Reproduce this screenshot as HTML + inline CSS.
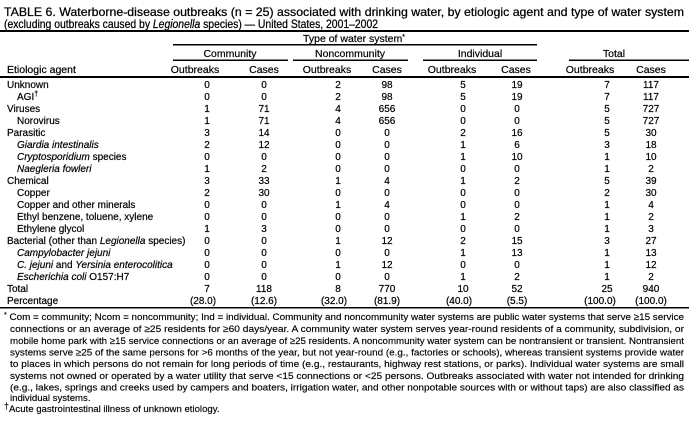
<!DOCTYPE html>
<html><head><meta charset="utf-8"><style>
html,body{margin:0;padding:0;background:#fff;}
svg{display:block;font-family:"Liberation Sans",Arial,sans-serif;}
.t{font-size:12px;stroke:#000;stroke-width:0.25}
.h{font-size:10.5px;stroke:#000;stroke-width:0.2}
.r{font-size:10px;stroke:#000;stroke-width:0.2}
.f{font-size:9.6px;stroke:#000;stroke-width:0.15}
.n text{text-anchor:middle}
</style></head><body>
<svg width="689" height="424" viewBox="0 0 689 424" xmlns="http://www.w3.org/2000/svg">
<defs></defs>
<text class="t" x="4" y="16" textLength="680" lengthAdjust="spacingAndGlyphs">TABLE 6. Waterborne-disease outbreaks (n = 25) associated with drinking water, by etiologic agent and type of water system</text>
<text class="t" x="4" y="28" textLength="374" lengthAdjust="spacingAndGlyphs">(excluding outbreaks caused by <tspan font-style="italic">Legionella</tspan> species) — United States, 2001–2002</text>
<rect x="0" y="30" width="689" height="2" fill="#000"/>
<text class="h" x="354" y="42" text-anchor="middle">Type of water system<tspan font-size="7" dy="-3">*</tspan></text>
<rect x="173" y="44" width="364" height="1.5" fill="#000"/>
<g class="h" text-anchor="middle">
<text x="230" y="57">Community</text>
<text x="350" y="57">Noncommunity</text>
<text x="480" y="57">Individual</text>
<text x="614" y="57">Total</text>
</g>
<rect x="173" y="59.5" width="115" height="1.5" fill="#000"/>
<rect x="293" y="59.5" width="115" height="1.5" fill="#000"/>
<rect x="423" y="59.5" width="114" height="1.5" fill="#000"/>
<rect x="569" y="59.5" width="120" height="1.5" fill="#000"/>
<g class="h" text-anchor="middle">
<text x="195" y="73">Outbreaks</text><text x="264" y="73">Cases</text>
<text x="327" y="73">Outbreaks</text><text x="387" y="73">Cases</text>
<text x="452" y="73">Outbreaks</text><text x="516" y="73">Cases</text>
<text x="590" y="73">Outbreaks</text><text x="651" y="73">Cases</text>
</g>
<text class="h" x="7" y="73">Etiologic agent</text>
<rect x="0" y="76" width="689" height="2" fill="#000"/>

<g class="r">
<text x="7" y="88">Unknown</text>
<text x="17" y="100">AGI<tspan font-size="7" dy="-4">†</tspan></text>
<text x="7" y="112">Viruses</text>
<text x="17" y="124">Norovirus</text>
<text x="7" y="136">Parasitic</text>
<text x="17" y="148" font-style="italic">Giardia intestinalis</text>
<text x="17" y="160"><tspan font-style="italic">Cryptosporidium</tspan> species</text>
<text x="17" y="172" font-style="italic">Naegleria fowleri</text>
<text x="7" y="184">Chemical</text>
<text x="17" y="196">Copper</text>
<text x="17" y="208">Copper and other minerals</text>
<text x="17" y="220">Ethyl benzene, toluene, xylene</text>
<text x="17" y="232">Ethylene glycol</text>
<text x="7" y="244">Bacterial (other than <tspan font-style="italic">Legionella</tspan> species)</text>
<text x="17" y="256" font-style="italic">Campylobacter jejuni</text>
<text x="17" y="268"><tspan font-style="italic">C. jejuni</tspan> and <tspan font-style="italic">Yersinia enterocolitica</tspan></text>
<text x="17" y="280"><tspan font-style="italic">Escherichia coli</tspan> O157:H7</text>
<text x="7" y="292">Total</text>
<text x="7" y="304">Percentage</text>
</g>

<g class="r n">
<g transform="translate(0,88)"><text x="207">0</text><text x="264">0</text><text x="338">2</text><text x="387">98</text><text x="463">5</text><text x="517">19</text><text x="607">7</text><text x="651">117</text></g>
<g transform="translate(0,100)"><text x="207">0</text><text x="264">0</text><text x="338">2</text><text x="387">98</text><text x="463">5</text><text x="517">19</text><text x="607">7</text><text x="651">117</text></g>
<g transform="translate(0,112)"><text x="207">1</text><text x="264">71</text><text x="338">4</text><text x="387">656</text><text x="463">0</text><text x="517">0</text><text x="607">5</text><text x="651">727</text></g>
<g transform="translate(0,124)"><text x="207">1</text><text x="264">71</text><text x="338">4</text><text x="387">656</text><text x="463">0</text><text x="517">0</text><text x="607">5</text><text x="651">727</text></g>
<g transform="translate(0,136)"><text x="207">3</text><text x="264">14</text><text x="338">0</text><text x="387">0</text><text x="463">2</text><text x="517">16</text><text x="607">5</text><text x="651">30</text></g>
<g transform="translate(0,148)"><text x="207">2</text><text x="264">12</text><text x="338">0</text><text x="387">0</text><text x="463">1</text><text x="517">6</text><text x="607">3</text><text x="651">18</text></g>
<g transform="translate(0,160)"><text x="207">0</text><text x="264">0</text><text x="338">0</text><text x="387">0</text><text x="463">1</text><text x="517">10</text><text x="607">1</text><text x="651">10</text></g>
<g transform="translate(0,172)"><text x="207">1</text><text x="264">2</text><text x="338">0</text><text x="387">0</text><text x="463">0</text><text x="517">0</text><text x="607">1</text><text x="651">2</text></g>
<g transform="translate(0,184)"><text x="207">3</text><text x="264">33</text><text x="338">1</text><text x="387">4</text><text x="463">1</text><text x="517">2</text><text x="607">5</text><text x="651">39</text></g>
<g transform="translate(0,196)"><text x="207">2</text><text x="264">30</text><text x="338">0</text><text x="387">0</text><text x="463">0</text><text x="517">0</text><text x="607">2</text><text x="651">30</text></g>
<g transform="translate(0,208)"><text x="207">0</text><text x="264">0</text><text x="338">1</text><text x="387">4</text><text x="463">0</text><text x="517">0</text><text x="607">1</text><text x="651">4</text></g>
<g transform="translate(0,220)"><text x="207">0</text><text x="264">0</text><text x="338">0</text><text x="387">0</text><text x="463">1</text><text x="517">2</text><text x="607">1</text><text x="651">2</text></g>
<g transform="translate(0,232)"><text x="207">1</text><text x="264">3</text><text x="338">0</text><text x="387">0</text><text x="463">0</text><text x="517">0</text><text x="607">1</text><text x="651">3</text></g>
<g transform="translate(0,244)"><text x="207">0</text><text x="264">0</text><text x="338">1</text><text x="387">12</text><text x="463">2</text><text x="517">15</text><text x="607">3</text><text x="651">27</text></g>
<g transform="translate(0,256)"><text x="207">0</text><text x="264">0</text><text x="338">0</text><text x="387">0</text><text x="463">1</text><text x="517">13</text><text x="607">1</text><text x="651">13</text></g>
<g transform="translate(0,268)"><text x="207">0</text><text x="264">0</text><text x="338">1</text><text x="387">12</text><text x="463">0</text><text x="517">0</text><text x="607">1</text><text x="651">12</text></g>
<g transform="translate(0,280)"><text x="207">0</text><text x="264">0</text><text x="338">0</text><text x="387">0</text><text x="463">1</text><text x="517">2</text><text x="607">1</text><text x="651">2</text></g>
<g transform="translate(0,292)"><text x="207">7</text><text x="264">118</text><text x="338">8</text><text x="387">770</text><text x="463">10</text><text x="517">52</text><text x="607">25</text><text x="651">940</text></g>
<g transform="translate(0,304)"><text x="203">(28.0)</text><text x="264">(12.6)</text><text x="334">(32.0)</text><text x="387">(81.9)</text><text x="459">(40.0)</text><text x="517">(5.5)</text><text x="600">(100.0)</text><text x="651">(100.0)</text></g>
</g>
<rect x="0" y="307" width="689" height="1.5" fill="#000"/>

<g class="f">
<text x="4" y="320" textLength="680" lengthAdjust="spacingAndGlyphs"><tspan font-size="7" dy="-3">*</tspan><tspan dy="3"> Com = community; Ncom = noncommunity; Ind = individual. Community and noncommunity water systems are public water systems that serve ≥15 service</tspan></text>
<text x="10" y="332" textLength="674" lengthAdjust="spacingAndGlyphs">connections or an average of ≥25 residents for ≥60 days/year. A community water system serves year-round residents of a community, subdivision, or</text>
<text x="10" y="344" textLength="674" lengthAdjust="spacingAndGlyphs">mobile home park with ≥15 service connections or an average of ≥25 residents. A noncommunity water system can be nontransient or transient. Nontransient</text>
<text x="10" y="355.5" textLength="674" lengthAdjust="spacingAndGlyphs">systems serve ≥25 of the same persons for &gt;6 months of the year, but not year-round (e.g., factories or schools), whereas transient systems provide water</text>
<text x="10" y="367" textLength="674" lengthAdjust="spacingAndGlyphs">to places in which persons do not remain for long periods of time (e.g., restaurants, highway rest stations, or parks). Individual water systems are small</text>
<text x="10" y="379" textLength="674" lengthAdjust="spacingAndGlyphs">systems not owned or operated by a water utility that serve &lt;15 connections or &lt;25 persons. Outbreaks associated with water not intended for drinking</text>
<text x="10" y="390.5" textLength="674" lengthAdjust="spacingAndGlyphs">(e.g., lakes, springs and creeks used by campers and boaters, irrigation water, and other nonpotable sources with or without taps) are also classified as</text>
<text x="10" y="401">individual systems.</text>
<text x="4" y="412"><tspan font-size="9" dy="-3">†</tspan><tspan dy="3">Acute gastrointestinal illness of unknown etiology.</tspan></text>
</g>
</svg>
</body></html>
